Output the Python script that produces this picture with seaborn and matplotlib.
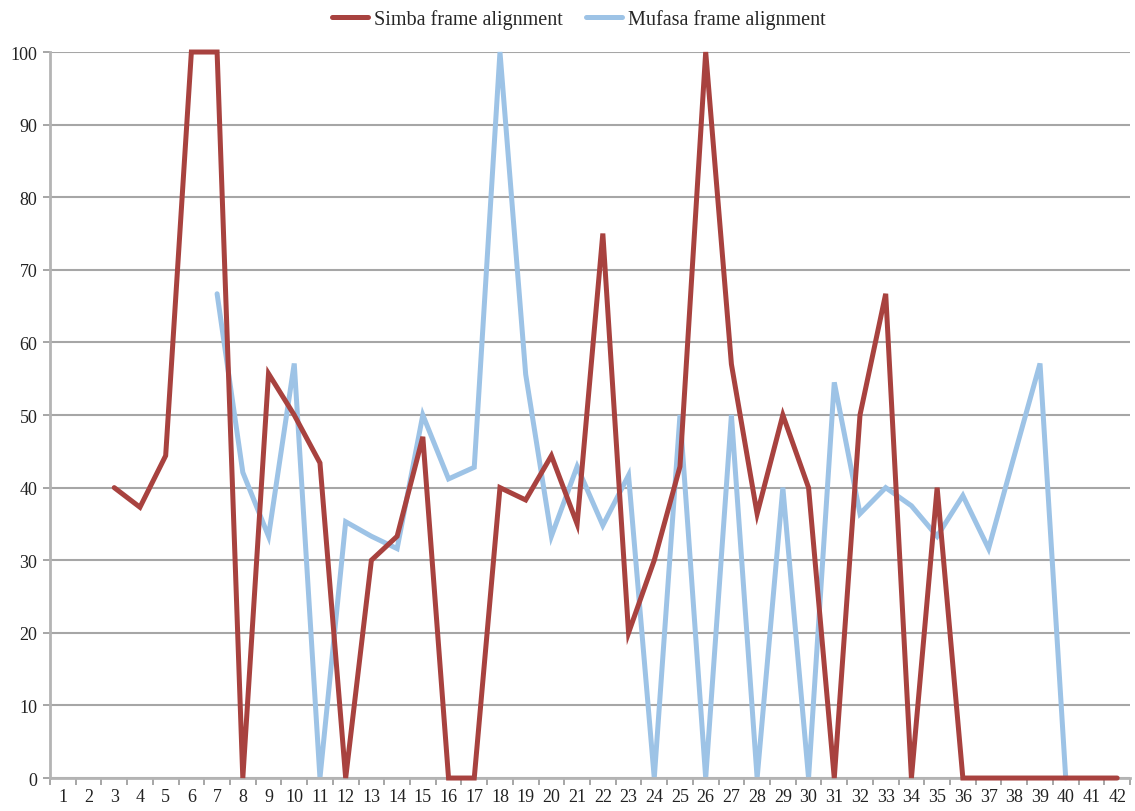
import numpy as np
import pandas as pd
import seaborn as sns
import matplotlib.pyplot as plt
from matplotlib.ticker import MultipleLocator, FixedLocator

# frame numbers on the x axis
frames = list(range(1, 43))

# alignment scores per frame (None = no value)
simba = [None, None, 40, 37.3, 44.4, 100, 100, 0, 55.7, 50,
         43.4, 0, 30, 33.3, 47, 0, 0, 40, 38.3, 44.4,
         35, 75, 20, 30, 42.9, 100, 57, 36.4, 50, 40,
         0, 50, 66.7, 0, 40, 0, 0, 0, 0, 0,
         0, 0]
mufasa = [None, None, None, None, None, None, 66.7, 42.1, 33.3, 57.1,
          0, 35.3, 33.3, 31.6, 50, 41.2, 42.8, 100, 55.6, 33.3,
          42.9, 34.8, 41.7, 0, 50, 0, 50, 0, 40, 0,
          54.5, 36.4, 40, 37.5, 33.3, 38.9, 31.6, 44.4, 57.1, 0,
          None, None]

series_names = ["Simba frame alignment", "Mufasa frame alignment"]
colors = ["#A8423F", "#9DC3E6"]

df = pd.DataFrame({series_names[0]: simba, series_names[1]: mufasa},
                  index=frames, dtype=float)
df.index.name = "frame"

sns.set_style("white")
plt.rcParams['font.family'] = ['Liberation Serif', 'DejaVu Serif']

fig = plt.figure(figsize=(11.35, 8.12), dpi=100)
ax = fig.add_axes([0.044, 0.0406, 0.9516, 0.8941])

sns.lineplot(data=df, palette=colors, dashes=False, linewidth=3.6,
             ax=ax, legend=True)
# Simba line sits on top of Mufasa, as in the original
for ln, z in zip(ax.lines, [3, 2]):
    ln.set_clip_on(False)
    ln.set_solid_joinstyle('miter')
    ln.set_zorder(z)

ax.set_xlim(0.5, 42.5)
ax.set_ylim(0, 100)
ax.yaxis.set_major_locator(MultipleLocator(10))
ax.set_xticks(frames)
ax.xaxis.set_minor_locator(FixedLocator(np.arange(0.5, 43, 1)))
ax.tick_params(axis='x', which='major', length=0, labelsize=13, pad=7,
               labelcolor='#222222')
ax.tick_params(axis='x', which='minor', length=5, width=1.4, color='#A6A6A6',
               direction='out', bottom=True)
ax.tick_params(axis='y', which='major', length=5, width=1.4, color='#A6A6A6',
               direction='out', left=True, labelsize=13, pad=4,
               labelcolor='#222222')
ax.set_xlabel("")
ax.set_ylabel("")

ax.grid(axis='y', color='#A6A6A6', linewidth=1.5)
ax.set_axisbelow(True)
for side in ['top', 'right']:
    ax.spines[side].set_visible(False)
for side in ['left', 'bottom']:
    ax.spines[side].set_color('#B4B4B4')
    ax.spines[side].set_linewidth(2)

handles, labels = ax.get_legend_handles_labels()
ax.get_legend().remove()
fig.legend(handles, labels, loc='upper center', bbox_to_anchor=(0.51, 1.01),
           ncol=2, frameon=False, fontsize=14.5, handlelength=1.75,
           handletextpad=0.3, columnspacing=1.2)

fig.savefig("out.png", dpi=100)
